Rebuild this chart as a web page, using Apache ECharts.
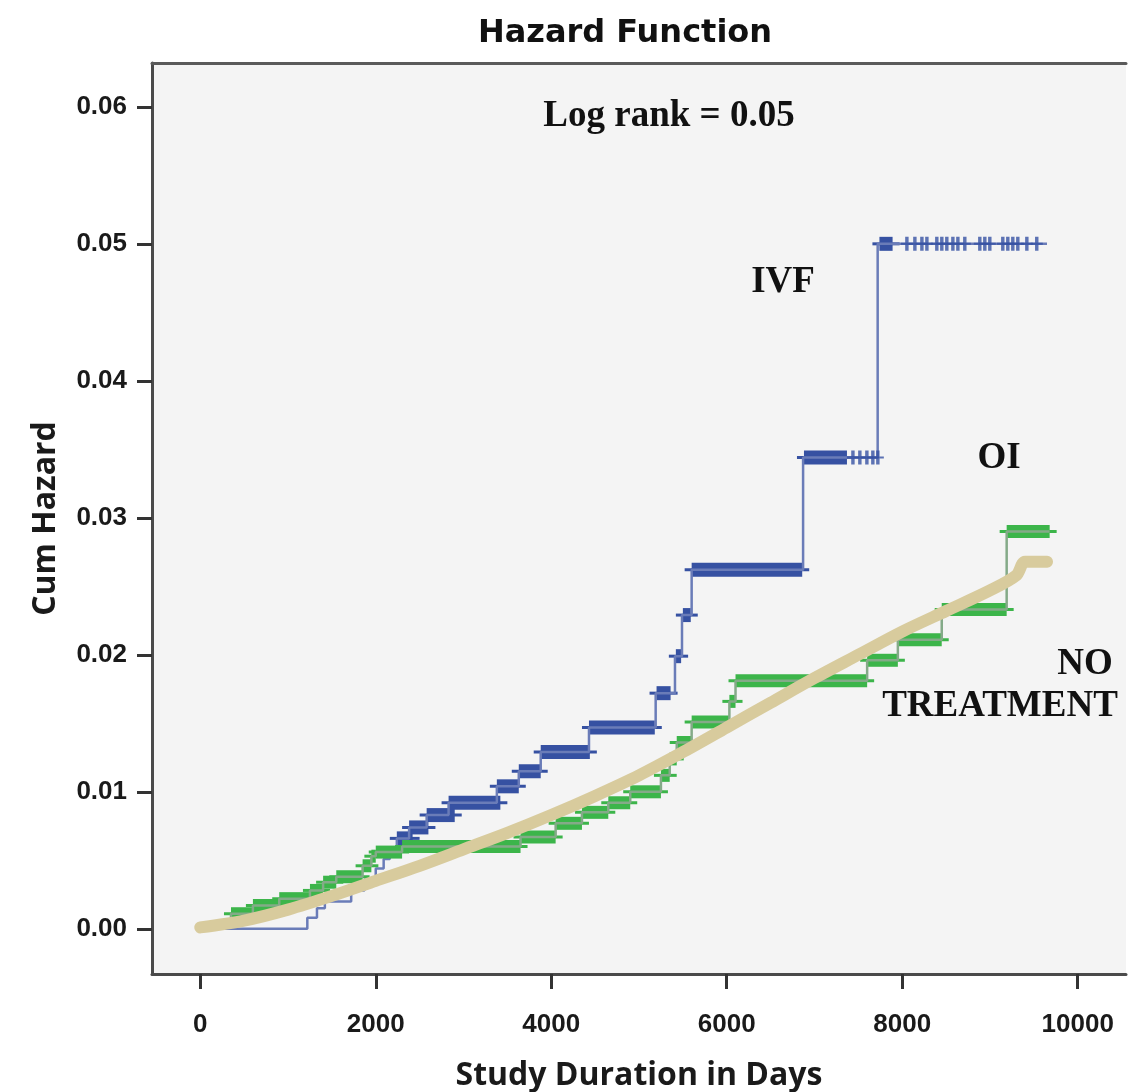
<!DOCTYPE html>
<html><head><meta charset="utf-8">
<script src="https://cdn.jsdelivr.net/npm/echarts@6/dist/echarts.min.js"></script>
<style>html,body{margin:0;padding:0;background:#fff}#c{width:1129px;height:1092px}</style>
</head><body><div id="c"></div>
<script>
// axis ticks
const xTicks = [0, 2000, 4000, 6000, 8000, 10000];
const yTicks = [0, 0.01, 0.02, 0.03, 0.04, 0.05, 0.06];

// IVF: cumulative hazard steps [day, hazard]
const ivfSteps = [[0,0],[1220,0.0008],[1330,0.0015],[1420,0.0020],[1720,0.0028],[1870,0.0036],[2000,0.0044],[2090,0.0051],[2160,0.0058],[2240,0.0066],[2380,0.0074],[2580,0.0083],[2830,0.0092],[3380,0.0104],[3630,0.0115],[3880,0.0129],[4430,0.0147],[5190,0.0172],[5410,0.0199],[5490,0.0229],[5600,0.0262],[6870,0.0344],[7720,0.0500],[9650,0.0500]];
// IVF dense censoring runs [fromDay, toDay, hazard]
const ivfCensorRuns = [[2240,2420,0.0066],[2380,2600,0.0074],[2580,2900,0.0083],[2830,3420,0.0092],[3380,3630,0.0104],[3630,3880,0.0115],[3880,4440,0.0129],[4430,5180,0.0147],[5200,5360,0.0172],[5420,5480,0.0199],[5500,5590,0.0229],[5600,6860,0.0262],[6880,7370,0.0344],[7740,7890,0.0500]];
// IVF single censor marks [day, hazard]
const ivfCensorMarks = [[7438,0.0344],[7517,0.0344],[7597,0.0344],[7665,0.0344],[7722,0.0344],[8053,0.05],[8144,0.05],[8224,0.05],[8281,0.05],[8394,0.05],[8451,0.05],[8508,0.05],[8577,0.05],[8634,0.05],[8713,0.05],[8884,0.05],[8941,0.05],[8998,0.05],[9146,0.05],[9203,0.05],[9260,0.05],[9317,0.05],[9420,0.05],[9533,0.05]];

// OI: steps and censoring runs
const oiSteps = [[0,0],[150,0.0005],[350,0.0011],[600,0.0017],[900,0.0022],[1250,0.0028],[1400,0.0034],[1550,0.0038],[1850,0.0046],[1950,0.0053],[2000,0.0056],[2300,0.0060],[3650,0.0067],[4050,0.0077],[4350,0.0085],[4650,0.0092],[4900,0.0100],[5250,0.0112],[5350,0.0124],[5430,0.0136],[5600,0.0151],[6030,0.0166],[6100,0.0181],[7600,0.0196],[7950,0.0211],[8450,0.0233],[9190,0.0290],[9680,0.0290]];
const oiCensorRuns = [[350,600,0.0011],[600,900,0.0017],[900,1250,0.0022],[1250,1400,0.0028],[1400,1550,0.0034],[1550,1850,0.0038],[1850,1950,0.0046],[1950,2000,0.0053],[2000,2300,0.0056],[2300,3650,0.0060],[3650,4050,0.0067],[4050,4350,0.0077],[4350,4650,0.0085],[4650,4900,0.0092],[4900,5250,0.0100],[5250,5350,0.0112],[5350,5430,0.0124],[5430,5600,0.0136],[5600,6030,0.0151],[6030,6100,0.0166],[6100,7600,0.0181],[7600,7950,0.0196],[7950,8450,0.0211],[8450,9190,0.0233],[9190,9680,0.0290]];

// No treatment: dense curve [day, hazard]
const noTreatCurve = [[0,0.0001],[500,0.0006],[1000,0.0014],[1500,0.0024],[2000,0.0035],[2500,0.0046],[3000,0.0058],[3500,0.0070],[4000,0.0083],[4500,0.0097],[5000,0.0112],[5500,0.0129],[6000,0.0147],[6500,0.0165],[7000,0.0183],[7500,0.0200],[8000,0.0217],[8500,0.0232],[9000,0.0247],[9300,0.0258],[9400,0.0268],[9650,0.0268]];

const chart = echarts.init(document.getElementById('c'));

function runRenderer(color, h) {
  return function (params, api) {
    const a = api.coord([api.value(0), api.value(2)]);
    const b = api.coord([api.value(1), api.value(2)]);
    const w = Math.max(b[0] - a[0], 3);
    return {
      type: 'group',
      children: [
        {type: 'rect', shape: {x: a[0] - 7, y: a[1] - 1.5, width: w + 14, height: 3}, style: {fill: color}},
        {type: 'rect', shape: {x: a[0], y: a[1] - h / 2, width: w, height: h}, style: {fill: color}}
      ]
    };
  };
}

const labelFont = {fontFamily: 'Liberation Sans', fontWeight: 'bold', fontSize: 26, color: '#1a1a1a'};
const nameFont = {fontFamily: 'Open Sans', fontWeight: 'bold', fontSize: 32, color: '#1a1a1a'};
const annot = (text, x, y) => ({type: 'text', x: x, y: y, z: 100,
  style: {text: text, fontFamily: 'Liberation Serif', fontWeight: 'bold', fontSize: 37, fill: '#111', align: 'center', verticalAlign: 'middle'}});

chart.setOption({
  animation: false,
  backgroundColor: '#ffffff',
  grid: {left: 152, right: 3, top: 63, bottom: 118, show: true, backgroundColor: '#f4f4f4', borderWidth: 0, outerBoundsMode: 'none', containLabel: false},
  xAxis: [{
    type: 'value', min: -550, max: 10550, position: 'bottom',
    axisLine: {show: true, onZero: false, lineStyle: {color: '#4a4a4a', width: 3}},
    axisTick: {show: true, customValues: xTicks, length: 15, lineStyle: {color: '#333', width: 3}},
    axisLabel: Object.assign({customValues: xTicks, margin: 38, formatter: v => String(v)}, labelFont),
    splitLine: {show: false},
    name: 'Study Duration in Days', nameLocation: 'middle', nameGap: 86, nameTextStyle: nameFont
  }, {
    type: 'value', min: -550, max: 10550, position: 'top',
    axisLine: {show: true, onZero: false, lineStyle: {color: '#5a5a5a', width: 3}},
    axisTick: {show: false}, axisLabel: {show: false}, splitLine: {show: false}
  }],
  yAxis: {
    type: 'value', min: -0.0033, max: 0.0632,
    axisLine: {show: true, onZero: false, lineStyle: {color: '#4a4a4a', width: 3}},
    axisTick: {show: true, customValues: yTicks, length: 15, lineStyle: {color: '#333', width: 3}},
    axisLabel: Object.assign({customValues: yTicks, margin: 25, formatter: v => v.toFixed(2)}, labelFont),
    splitLine: {show: false},
    name: 'Cum Hazard', nameLocation: 'middle', nameGap: 90, nameTextStyle: nameFont
  },
  graphic: [
    {type: 'text', x: 625, y: 34, z: 100, style: {text: 'Hazard Function', fontFamily: 'DejaVu Sans', fontWeight: 'bold', fontSize: 32, fill: '#111', align: 'center', verticalAlign: 'middle'}},
    annot('Log rank = 0.05', 669, 116),
    annot('IVF', 783, 282),
    annot('OI', 999, 458),
    annot('NO', 1085, 664),
    annot('TREATMENT', 1000, 706)
  ],
  series: [
    {type: 'line', name: 'IVF', data: ivfSteps, step: 'end', showSymbol: false, z: 2,
      lineStyle: {color: '#6a7cb8', width: 2.5}},
    {type: 'custom', name: 'IVF censored', data: ivfCensorRuns, z: 2,
      encode: {x: [0, 1], y: 2}, renderItem: runRenderer('#3651a2', 14)},
    {type: 'scatter', name: 'IVF censored marks', data: ivfCensorMarks, z: 2,
      symbol: 'path://M5,0H9V6H14V8H9V14H5V8H0V6H5Z', symbolSize: [12, 14], symbolKeepAspect: false,
      itemStyle: {color: '#3651a2'}},
    {type: 'line', name: 'OI', data: oiSteps, step: 'end', showSymbol: false, z: 3,
      lineStyle: {color: '#84aa88', width: 2.5}},
    {type: 'custom', name: 'OI censored', data: oiCensorRuns, z: 3,
      encode: {x: [0, 1], y: 2}, renderItem: runRenderer('#3cb54a', 13)},
    {type: 'line', name: 'NO TREATMENT', data: noTreatCurve, showSymbol: false, smooth: 0.3, z: 4,
      lineStyle: {color: '#d8cb9d', width: 12, cap: 'round', join: 'round'}}
  ]
});
</script>
</body></html>
